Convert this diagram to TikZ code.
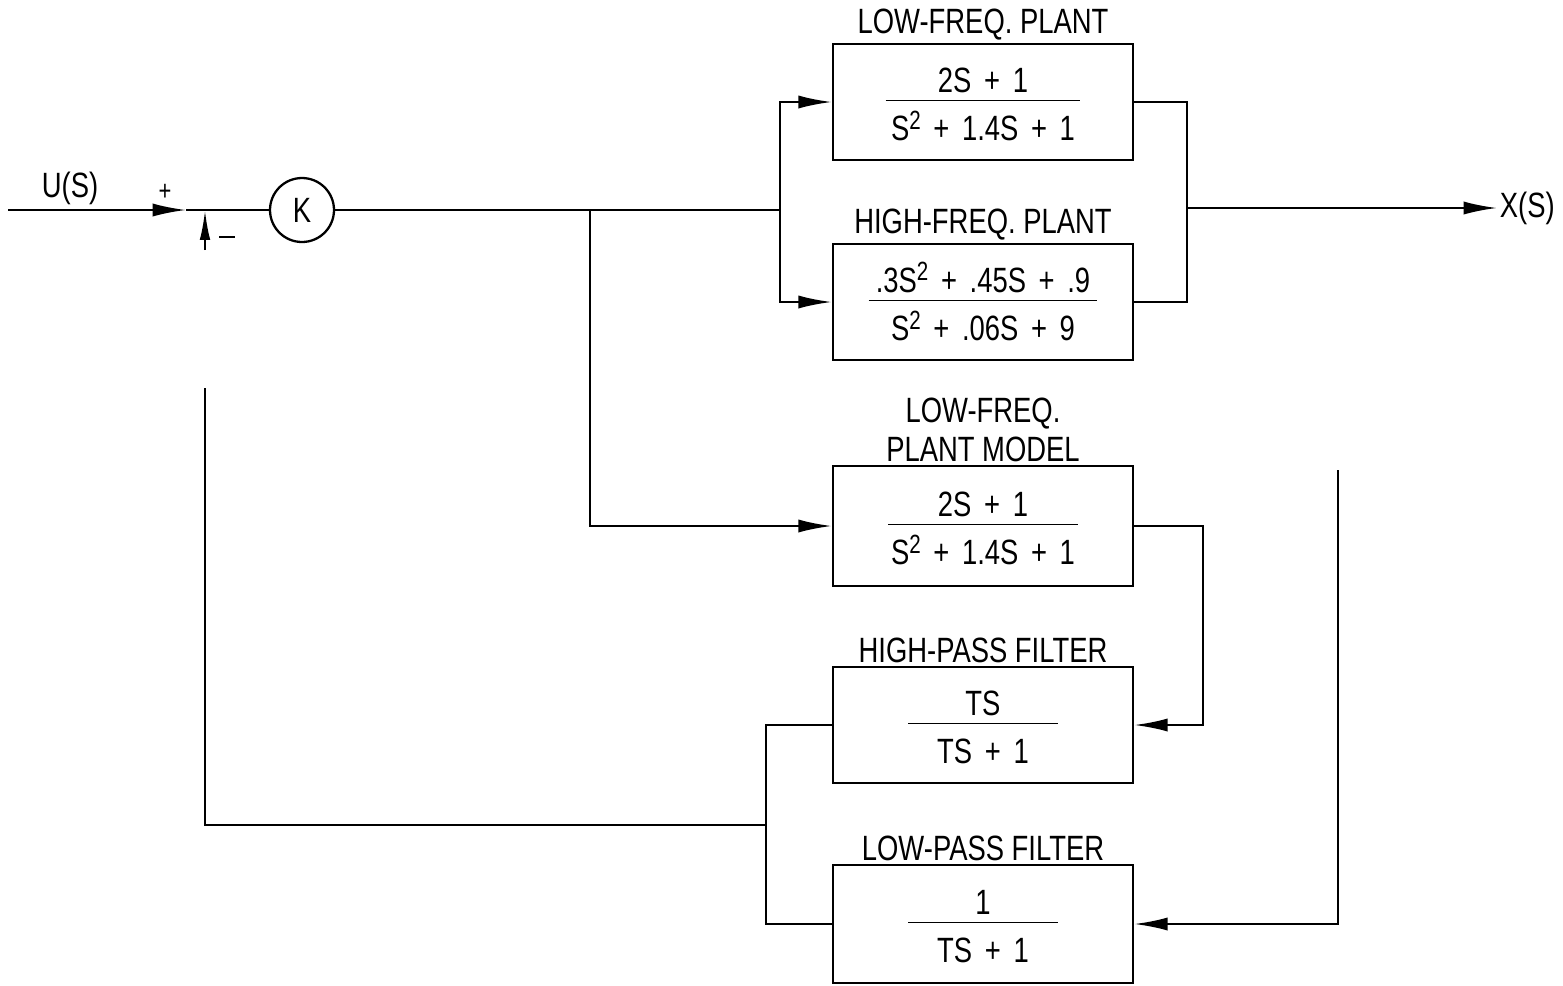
\documentclass[tikz,border=0pt]{standalone}
\usepackage{fontspec}
\setmainfont{Liberation Sans}[FakeStretch=0.78]
\usetikzlibrary{arrows.meta,positioning,calc}

\newcommand{\sqr}{\raisebox{0.62ex}{\fontsize{15}{15}\selectfont 2}}
\newcommand{\blockfrac}[3]{%
  \spaceskip=0.36em plus 0.1em\relax
  \begin{tabular}{@{}c@{}}\rule{0pt}{23pt}\makebox[#3]{#1}\\[-2pt]\hline
  \rule{0pt}{22.5pt}#2\end{tabular}}

\begin{document}
\begin{tikzpicture}[
  x=0.02cm,y=-0.02cm,>={Latex[length=19pt,width=7.5pt]},
  line width=1.3pt,
  flow/.style={->},
  plant/.style={draw,line width=1.5pt,minimum width=6cm,
    minimum height=2.32cm,inner sep=0pt,align=center},
  tag/.style={align=center,inner sep=0pt},
  gain/.style={draw,circle,minimum size=1.28cm,inner sep=0pt},
  every node/.style={font=\fontsize{20}{22}\selectfont}
]
  \useasboundingbox (0,0) rectangle (1563,985);

  % plant and filter blocks
  \node[plant] (lfp) at (983,102)
    {\blockfrac{2S + 1}{S\sqr{} + 1.4S + 1}{3.9cm}};
  \node[plant] (hfp) at (983,302)
    {\blockfrac{.3S\sqr{} + .45S + .9}{S\sqr{} + .06S + 9}{4.58cm}};
  \node[plant,minimum height=2.4cm] (model) at (983,526)
    {\blockfrac{2S + 1}{S\sqr{} + 1.4S + 1}{3.8cm}};
  \node[plant] (hpf) at (983,725)
    {\blockfrac{TS}{TS + 1}{3cm}};
  \node[plant,minimum height=2.36cm] (lpf) at (983,924)
    {\blockfrac{1}{TS + 1}{3cm}};

  \node[tag,above=1pt of lfp] (lfptag) {LOW-FREQ. PLANT};
  \node[tag,above=1pt of hfp] (hfptag) {HIGH-FREQ. PLANT};
  \node[tag,above=1pt of model] (modeltag) {LOW-FREQ.\\PLANT MODEL};
  \node[tag,above=1pt of hpf] (hpftag) {HIGH-PASS FILTER};
  \node[tag,above=1pt of lpf] (lpftag) {LOW-PASS FILTER};

  % input, summing point and gain
  \coordinate (in) at (8,210);
  \coordinate (plus) at (186,210);
  \coordinate (sum) at (205,210);
  \node[gain] (gain) at (302,210) {K};
  \node (ulabel) at (70,188) {U(S)};
  \node (plussign) at (165,192) {\fontsize{16}{16}\selectfont +};
  \node (minussign) at (227,237) {\rule{9pt}{1.6pt}};

  \draw[flow] (in) -- (plus);
  \draw (plus) -- (sum) -- (gain);

  % forward paths
  \coordinate (split) at (590,210);
  \coordinate (fork) at (780,210);
  \draw (gain) -- (fork);
  \draw[flow] (fork) |- (lfp.west);
  \draw[flow] (fork) |- (hfp.west);
  \draw[flow] (split) |- (model.west);

  \coordinate (merge) at (1187,208);
  \node[inner sep=1pt,anchor=west] (out) at (1497,208) {X(S)};
  \draw (lfp.east) -| (merge);
  \draw (hfp.east) -| (merge);
  \draw[flow] (merge) -- (out.west);

  % filter paths
  \draw[flow] (model.east) -- ++(69,0) |- (hpf.east);
  \coordinate (lpftop) at (1338,470);
  \draw[flow] (lpftop) |- (lpf.east);

  % feedback to summing point
  \coordinate (fltjoin) at (766,825);
  \coordinate (fbtop) at (205,388);
  \coordinate (fbstub) at (205,250);
  \draw (hpf.west) -| (fltjoin);
  \draw (lpf.west) -| (fltjoin);
  \draw (fltjoin) -| (fbtop);
  \draw[->,>={Latex[length=17pt,width=6pt]}] (fbstub) -- (sum);
\end{tikzpicture}
\end{document}
